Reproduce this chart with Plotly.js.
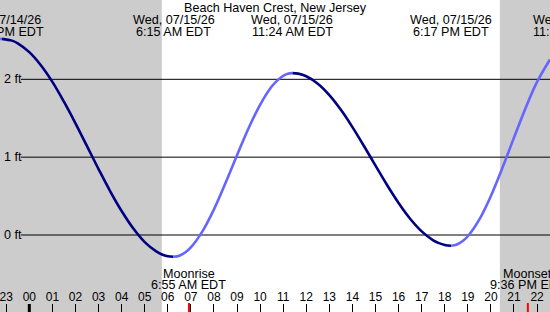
<!DOCTYPE html>
<html><head><meta charset="utf-8">
<script src="https://cdn.plot.ly/plotly-3.0.1.min.js"></script>
<style>html,body{margin:0;padding:0;background:#fff}#chart{width:550px;height:312px}</style>
</head><body><div id="chart"></div>
<script>
// ---- data (hours relative to 00:00 Wed 07/15/26, heights in ft) ----
const station = 'Beach Haven Crest, New Jersey';
const times   = [-1.27, -1.18, -0.75, -0.5, 0, 0.5, 1, 1.5, 2, 2.5, 3, 3.5, 4, 4.5, 5, 5.5, 5.75, 6, 6.25,
                 6.5, 6.75, 7, 7.5, 8, 8.5, 9, 9.5, 10, 10.5, 10.75, 11, 11.2, 11.4,
                 11.65, 12, 12.5, 13, 13.5, 14, 14.5, 15, 15.5, 16, 16.5, 17, 17.5, 17.75, 18, 18.28,
                 18.5, 18.75, 19, 19.5, 20, 20.5, 21, 21.5, 22, 22.56];
const heights = [2.518, 2.52, 2.497, 2.463, 2.349, 2.181, 1.967, 1.712, 1.434, 1.141, 0.847, 0.565, 0.308, 0.086, -0.091, -0.210, -0.250, -0.272, -0.28,
                 -0.266, -0.225, -0.159, 0.047, 0.330, 0.668, 1.026, 1.372, 1.673, 1.907, 1.987, 2.045, 2.071, 2.08,
                 2.073, 2.039, 1.943, 1.797, 1.608, 1.386, 1.143, 0.891, 0.642, 0.411, 0.209, 0.047, -0.068, -0.104, -0.127, -0.137,
                 -0.125, -0.084, -0.016, 0.200, 0.502, 0.863, 1.251, 1.630, 1.967, 2.255];
const eventTimes  = [-1.18, 6.25, 11.4, 18.28, 23.6];
const eventDates  = ['Tue, 07/14/26', 'Wed, 07/15/26', 'Wed, 07/15/26', 'Wed, 07/15/26', 'Wed, 07/15/26'];
const eventClock  = ['10:49 PM EDT', '6:15 AM EDT', '11:24 AM EDT', '6:17 PM EDT', '11:36 PM EDT'];
const hourTicks  = [-1, 0, 1, 2, 3, 4, 5, 6, 7, 8, 9, 10, 11, 12, 13, 14, 15, 16, 17, 18, 19, 20, 21, 22];
const hourLabels = ['23','00','01','02','03','04','05','06','07','08','09','10','11','12','13','14','15','16','17','18','19','20','21','22'];
const levelTicks  = [0, 1, 2];
const levelLabels = ['0 ft', '1 ft', '2 ft'];
const sunrise = 5.74, sunset = 20.39;
const moonTimes  = [6.917, 21.6];
const moonNames  = ['Moonrise', 'Moonset'];
const moonClock  = ['6:55 AM EDT', '9:36 PM EDT'];

// ---- layout constants ----
const W = 550, H = 312;
const xr = [-1.27, 22.56];
const yr = [-0.989, 3.019];
const FONT = 'Liberation Sans, Arial, sans-serif';
const FS = 12.6, FST = 12;
const FALL = '#000080', RISE = '#6666ff';
const px2paperY = p => 1 - p / H;
const hour2paperX = t => (t - xr[0]) / (xr[1] - xr[0]);

// split curve into rising / falling segments
const traces = [];
let seg = null;
for (let i = 0; i < times.length - 1; i++) {
  const dir = heights[i + 1] >= heights[i] ? 'rise' : 'fall';
  if (!seg || seg.dir !== dir) {
    seg = {dir, x: [times[i]], y: [heights[i]]};
    traces.push(seg);
  }
  seg.x.push(times[i + 1]);
  seg.y.push(heights[i + 1]);
}
const data = traces.map(s => ({
  type: 'scatter', mode: 'lines', x: s.x, y: s.y,
  line: {color: s.dir === 'rise' ? RISE : FALL, width: 2.6, shape: 'spline', smoothing: 1},
  hoverinfo: 'skip', showlegend: false
}));

const shapes = [
  {type: 'rect', xref: 'x', yref: 'paper', x0: xr[0] - 1, x1: sunrise, y0: 0, y1: 1, fillcolor: '#cccccc', line: {width: 0}, layer: 'below'},
  {type: 'rect', xref: 'x', yref: 'paper', x0: sunset, x1: xr[1] + 1, y0: 0, y1: 1, fillcolor: '#cccccc', line: {width: 0}, layer: 'below'}
];
levelTicks.forEach(v => shapes.push({type: 'line', xref: 'paper', yref: 'y', x0: 21 / W, x1: 1, y0: v, y1: v, line: {color: '#000', width: 1}, layer: 'below'}));
shapes.push({type: 'line', xref: 'x', yref: 'paper', x0: 0, x1: 0, y0: 0, y1: 8 / H, line: {color: '#000', width: 3}});
moonTimes.forEach(t => shapes.push({type: 'line', xref: 'x', yref: 'paper', x0: t, x1: t, y0: 0, y1: 9 / H, line: {color: '#ff0000', width: 2}}));

const ann = [];
const txt = (text, x, xref, y, yref, xanchor) => ann.push({text, x, xref, y, yref, xanchor: xanchor || 'center', yanchor: 'middle', showarrow: false, font: {family: FONT, size: FS, color: '#000'}, borderpad: 0});
txt(station, 0.5, 'paper', px2paperY(7.5), 'paper');
eventTimes.forEach((t, i) => {
  txt(eventDates[i], hour2paperX(t), 'paper', px2paperY(19.8), 'paper');
  txt(eventClock[i], hour2paperX(t), 'paper', px2paperY(32), 'paper');
});
moonTimes.forEach((t, i) => {
  txt(moonNames[i], hour2paperX(t), 'paper', px2paperY(273.5), 'paper');
  txt(moonClock[i], hour2paperX(t), 'paper', px2paperY(285), 'paper');
});
levelTicks.forEach((v, i) => txt(levelLabels[i], 2.5 / W, 'paper', v, 'y', 'left'));

const layout = {
  width: W, height: H,
  margin: {l: 0, r: 0, t: 0, b: 0, pad: 0},
  paper_bgcolor: '#ffffff', plot_bgcolor: '#ffffff',
  showlegend: false,
  xaxis: {range: xr, fixedrange: true, showgrid: false, zeroline: false, showline: false,
    tickmode: 'array', tickvals: hourTicks, ticktext: hourLabels,
    ticks: 'inside', ticklen: 8, tickwidth: 1, tickcolor: '#000',
    ticklabelposition: 'inside', ticklabelstandoff: 0, ticklabeloverflow: 'allow',
    tickfont: {family: FONT, size: FST, color: '#000'}},
  yaxis: {range: yr, fixedrange: true, showgrid: false, zeroline: false, showline: false, showticklabels: false, ticks: ''},
  shapes, annotations: ann
};
Plotly.newPlot('chart', data, layout, {displayModeBar: false, staticPlot: true});
</script>
</body></html>
